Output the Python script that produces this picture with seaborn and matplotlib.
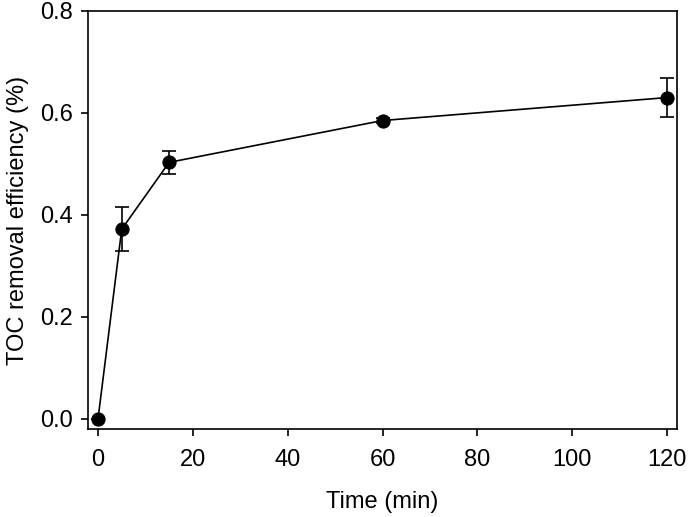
import numpy as np
import pandas as pd
import matplotlib
matplotlib.use("Agg")
import matplotlib.pyplot as plt
import seaborn as sns

# TOC removal vs time
time_min = [0, 5, 15, 60, 120]
toc_removal = [0.0, 0.372, 0.503, 0.585, 0.630]
toc_err = [0.0, 0.043, 0.022, 0.005, 0.039]

sns.set_style("ticks", {'text.color': 'black', 'axes.labelcolor': 'black',
                        'xtick.color': 'black', 'ytick.color': 'black'})
plt.rcParams['font.family'] = ['Liberation Sans', 'DejaVu Sans']

df = pd.DataFrame({'time': time_min, 'toc': toc_removal, 'err': toc_err})

fig = plt.figure(figsize=(6.88, 5.17), dpi=100)
ax = fig.add_axes([0.128, 0.170, 0.856, 0.809])

# error bars first so markers sit on top
ax.errorbar(df['time'], df['toc'], yerr=df['err'], fmt='none',
            ecolor='black', elinewidth=1.2, capsize=5, capthick=1.2, zorder=2)
sns.lineplot(data=df, x='time', y='toc', ax=ax, color='black', linewidth=1.2,
             marker='o', markersize=9.5, markeredgecolor='black', zorder=3)

ax.set_xlim(-2.1, 122.1)
ax.set_ylim(-0.02, 0.8)
ax.set_xticks([0, 20, 40, 60, 80, 100, 120])
ax.set_yticks([0.0, 0.2, 0.4, 0.6, 0.8])
ax.set_yticklabels(['0.0', '0.2', '0.4', '0.6', '0.8'])

ax.set_xlabel('Time (min)', fontsize=17, labelpad=15)
ax.set_ylabel('TOC removal efficiency (%)', fontsize=17, labelpad=8)
ax.tick_params(axis='both', labelsize=17, direction='out', length=5,
               width=1.2, color='black', labelcolor='black', pad=6)
ax.tick_params(axis='x', pad=9)
for side in ['top', 'right', 'left', 'bottom']:
    ax.spines[side].set_visible(True)
    ax.spines[side].set_color('black')
    ax.spines[side].set_linewidth(1.2)

fig.savefig('out.png', dpi=100)
